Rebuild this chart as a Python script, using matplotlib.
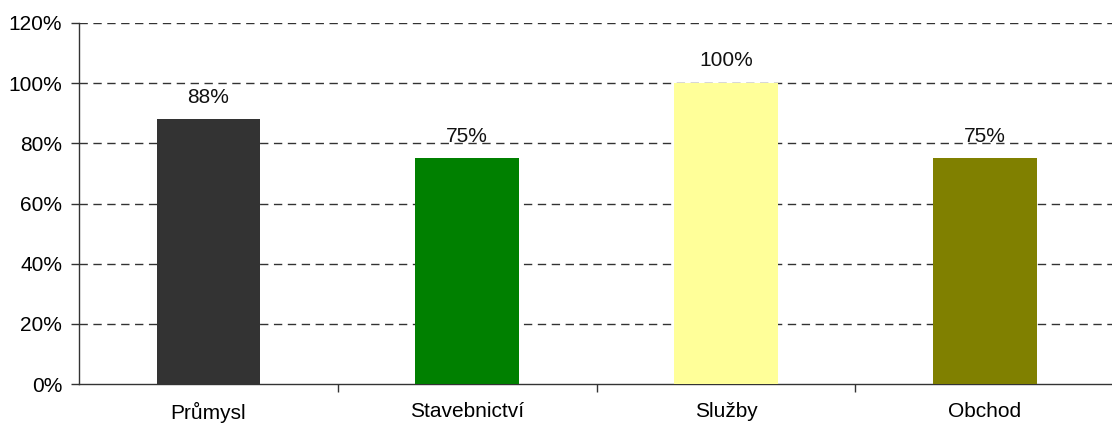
import matplotlib
matplotlib.use("Agg")
import matplotlib.pyplot as plt
from matplotlib.ticker import FixedLocator, FuncFormatter

categories = ["Průmysl", "Stavebnictví", "Služby", "Obchod"]
values = [88, 75, 100, 75]
labels = ["88%", "75%", "100%", "75%"]
colors = ["#333333", "#008000", "#FFFF99", "#808000"]
yticks = [0, 20, 40, 60, 80, 100, 120]

plt.rcParams['font.family'] = ['Liberation Sans', 'DejaVu Sans']

fig = plt.figure(figsize=(11.12, 4.26), dpi=100)
ax = fig.add_axes([79/1112, 1-384/426, 1-79/1112 + 0.002, (384-23)/426])

x = list(range(len(categories)))
bars = ax.bar(x, values, width=0.4, color=colors, zorder=3)
for xi, v, lab in zip(x, values, labels):
    ax.annotate(lab, (xi, v), xytext=(0, 12), textcoords="offset points",
                ha="center", va="baseline", fontsize=15, color="#111111")

ax.set_xlim(-0.5, len(categories) - 0.5)
ax.set_ylim(0, 120)
ax.set_yticks(yticks)
ax.yaxis.set_major_formatter(FuncFormatter(lambda v, p: f"{int(v)}%"))
ax.set_xticks(x)
ax.set_xticklabels(categories)
ax.xaxis.set_minor_locator(FixedLocator([i + 0.5 for i in range(len(categories))]))
ax.tick_params(axis="x", which="major", length=0, pad=13, labelsize=15)
ax.tick_params(axis="x", which="minor", length=6, width=1, color="#333333")
ax.tick_params(axis="y", length=6, width=1, pad=6, labelsize=15, color="#333333")

for yv in yticks[1:]:
    ax.axhline(yv, color="#333333", lw=1, ls=(0, (6, 4)), zorder=1)

for s in ["top", "right"]:
    ax.spines[s].set_visible(False)
for s in ["left", "bottom"]:
    ax.spines[s].set_color("#333333")
    ax.spines[s].set_linewidth(1)

fig.savefig("out.png", dpi=100)
